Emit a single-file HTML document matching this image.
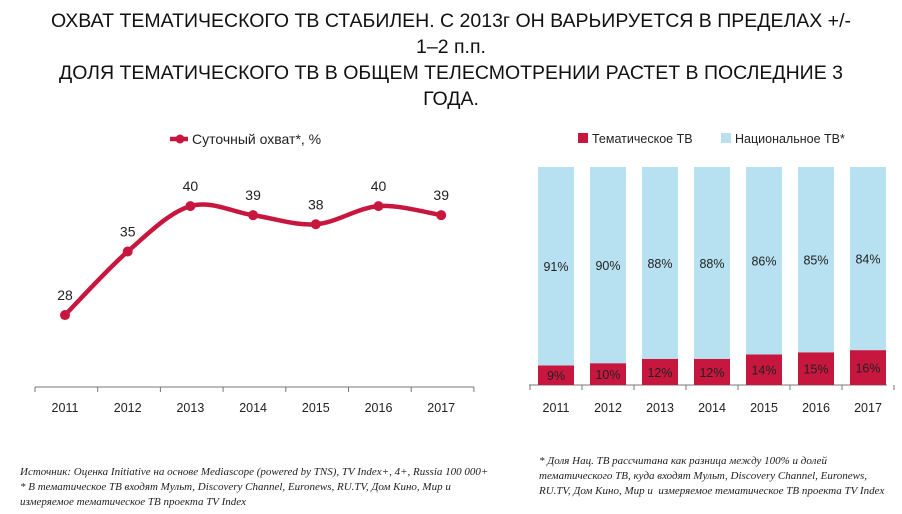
<!DOCTYPE html>
<html><head><meta charset="utf-8"><style>
body{margin:0;width:902px;height:514px;background:#fff;overflow:hidden;font-family:"Liberation Sans",sans-serif;}
#title{position:absolute;left:0;top:8px;width:902px;text-align:center;font-size:19.5px;line-height:26px;color:#111;}
.note{position:absolute;font-family:"Liberation Serif",serif;font-style:italic;font-size:11px;line-height:15px;color:#222;}
svg{position:absolute;left:0;top:0}
</style></head><body>
<div id="title">ОХВАТ ТЕМАТИЧЕСКОГО ТВ СТАБИЛЕН. С 2013г ОН ВАРЬИРУЕТСЯ В ПРЕДЕЛАХ +/-<br>1–2 п.п.<br>ДОЛЯ ТЕМАТИЧЕСКОГО ТВ В ОБЩЕМ ТЕЛЕСМОТРЕНИИ РАСТЕТ В ПОСЛЕДНИЕ 3<br>ГОДА.</div>
<svg id="c" width="902" height="514"></svg>
<div class="note" style="left:20px;top:465px;width:490px">Источник: Оценка Initiative на основе Mediascope (powered by TNS), TV Index+, 4+, Russia 100 000+<br>* В тематическое ТВ входят Мульт, Discovery Channel, Euronews, RU.TV, Дом Кино, Мир и<br>измеряемое тематическое ТВ проекта TV Index</div>
<div class="note" style="left:539px;top:454px;width:355px">* Доля Нац. ТВ рассчитана как разница между 100% и долей тематического ТВ, куда входят Мульт, Discovery Channel, Euronews, RU.TV, Дом Кино, Мир и&nbsp; измеряемое тематическое ТВ проекта TV Index</div>
<script>
const years=['2011','2012','2013','2014','2015','2016','2017'];
const reach=[28,35,40,39,38,40,39];
const thematic=[9,10,12,12,14,15,16];
const national=[91,90,88,88,86,85,84];
const NS='http://www.w3.org/2000/svg';
const svg=document.getElementById('c');
function mk(t,a,p){const e=document.createElementNS(NS,t);for(const k in a)e.setAttribute(k,a[k]);(p||svg).appendChild(e);return e;}
const RED='#c8173f',BLUE='#b7e1f0';
const lx=i=>65+i*62.7, ly=v=>569.3-9.08*v;
mk('line',{x1:35,y1:387,x2:474,y2:387,stroke:'#777','stroke-width':1});
for(let i=0;i<=7;i++){mk('line',{x1:35+i*62.7,y1:387,x2:35+i*62.7,y2:392,stroke:'#777'});}
let pts=reach.map((v,i)=>[lx(i),ly(v)]);
let d='M'+pts[0][0]+','+pts[0][1];
for(let i=0;i<pts.length-1;i++){const p0=pts[Math.max(0,i-1)],p1=pts[i],p2=pts[i+1],p3=pts[Math.min(pts.length-1,i+2)];
d+=`C${p1[0]+(p2[0]-p0[0])/6},${p1[1]+(p2[1]-p0[1])/6} ${p2[0]-(p3[0]-p1[0])/6},${p2[1]-(p3[1]-p1[1])/6} ${p2[0]},${p2[1]}`;}
const path=mk('path',{d:d,fill:'none',stroke:RED,'stroke-width':4.5});


reach.forEach((v,i)=>{
 const c=mk('circle',{cx:lx(i),cy:ly(v),r:5,fill:RED});
 
 
 const t=mk('text',{x:lx(i),y:ly(v)-15,'text-anchor':'middle','font-size':14,fill:'#222'});t.textContent=v;
 
 
 const y=mk('text',{x:lx(i),y:412,'text-anchor':'middle','font-size':12.5,fill:'#222'});y.textContent=years[i];
 
 
});
mk('line',{x1:170,y1:139,x2:188,y2:139,stroke:RED,'stroke-width':4.5});
mk('circle',{cx:180,cy:139,r:4.5,fill:RED});
const lt=mk('text',{x:192,y:144,'font-size':14,fill:'#222'});lt.textContent='Суточный охват*, %';


const bx=i=>556+i*52, base=385, bh=v=>v*2.18;
mk('line',{x1:529,y1:385,x2:887,y2:385,stroke:'#777'});
for(let i=0;i<=7;i++)mk('line',{x1:530+i*52,y1:385,x2:530+i*52,y2:390,stroke:'#777'});
years.forEach((yr,i)=>{
 const h1=bh(thematic[i]),h2=bh(national[i]);
 const r=mk('rect',{x:bx(i)-18,y:base-h1,width:36,height:h1,fill:RED});
 
 
 const b=mk('rect',{x:bx(i)-18,y:base-h1-h2,width:36,height:h2,fill:BLUE});
 
 
 const t1=mk('text',{x:bx(i),y:base-h1/2+5,'text-anchor':'middle','font-size':12.5,fill:'#222'});t1.textContent=thematic[i]+'%';
 
 
 const t2=mk('text',{x:bx(i),y:base-h1-h2/2+5,'text-anchor':'middle','font-size':12.5,fill:'#222'});t2.textContent=national[i]+'%';
 
 
 const y=mk('text',{x:bx(i),y:412,'text-anchor':'middle','font-size':12.5,fill:'#222'});y.textContent=yr;
 
 
});
mk('rect',{x:578,y:133,width:10,height:10,fill:RED});
const l1=mk('text',{x:592,y:143,'font-size':12.5,fill:'#222'});l1.textContent='Тематическое ТВ';


mk('rect',{x:721,y:133,width:10,height:10,fill:BLUE});
const l2=mk('text',{x:735,y:143,'font-size':12.5,fill:'#222'});l2.textContent='Национальное ТВ*';


</script>
</body></html>
